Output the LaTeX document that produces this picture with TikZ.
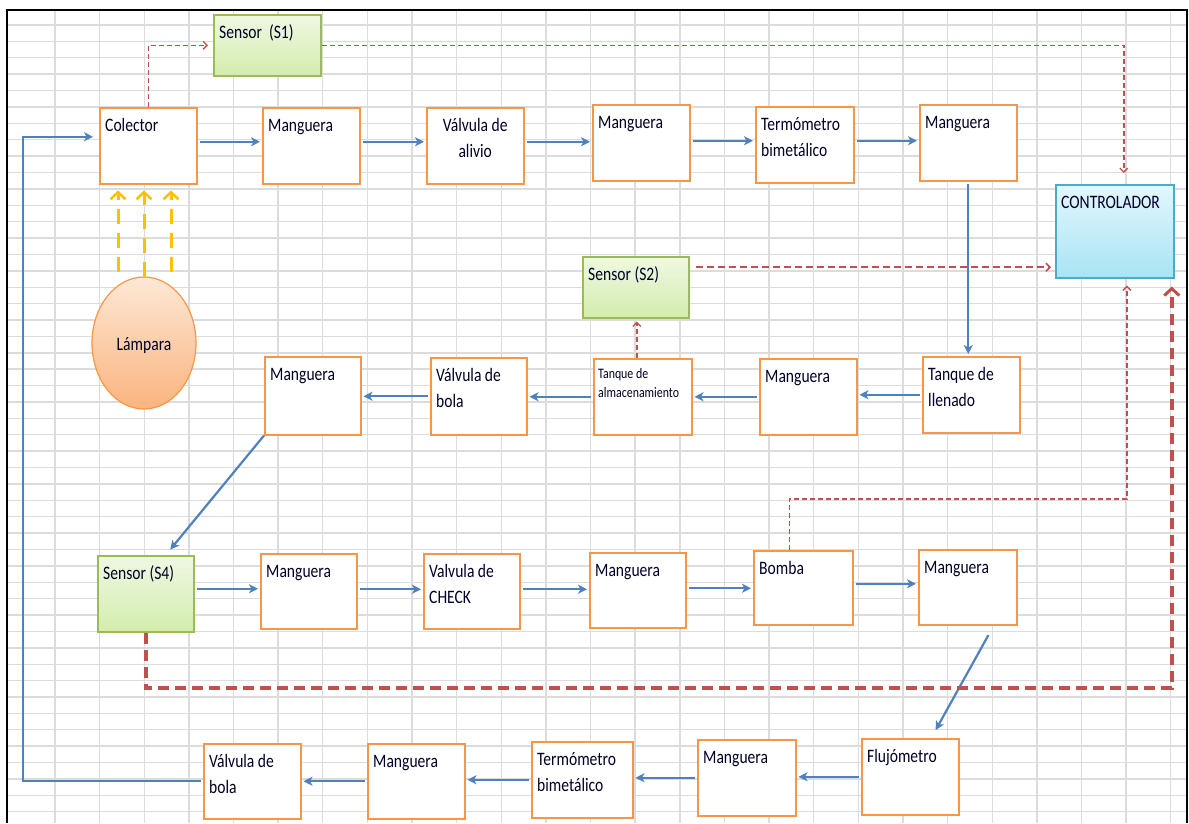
\documentclass[tikz,border=0pt]{standalone}
\usepackage{fontspec}
\setmainfont{Carlito}[FakeStretch=0.82]
\usetikzlibrary{arrows.meta,shapes.geometric}

\definecolor{procedge}{HTML}{F79646}
\definecolor{flowblue}{HTML}{4F81BD}
\definecolor{sigred}{HTML}{C0504D}
\definecolor{raygold}{HTML}{FFC000}
\definecolor{gridgray}{HTML}{DCDCDC}
\definecolor{sensedge}{HTML}{9BBB59}
\definecolor{senstop}{HTML}{EFF8E3}
\definecolor{sensbot}{HTML}{D3EDAC}
\definecolor{ctrledge}{HTML}{4BACC6}
\definecolor{ctrltop}{HTML}{E3F7FD}
\definecolor{ctrlbot}{HTML}{A8E4F4}
\definecolor{lamptop}{HTML}{FDE8D6}
\definecolor{lampbot}{HTML}{FAB47E}

% block: style, name, left, top, width, height, text (top-left aligned)
\newcommand\blk[7][proc]{%
  \node[#1, minimum width=#5, minimum height=#6] (#2) at (#3,#4) {};
  \node[lbl] (#2-t) at ([xshift=6pt,yshift=-24pt]#2.north west) {#7};}
% two stacked lines whose baseline is the first one
\newcommand\twol[2]{\vtop{\hbox{#1}\hbox{#2}}}
\newcommand\twoc[2]{\vtop{\halign{\hfil##\hfil\cr#1\cr#2\cr}}}

\begin{document}
\begin{tikzpicture}[x=1pt,y=-1pt,
  proc/.style={draw=procedge, line width=1.5pt, fill=white, inner sep=0pt, anchor=north west},
  sens/.style={draw=sensedge, line width=1.5pt, top color=senstop, bottom color=sensbot, inner sep=0pt, anchor=north west},
  ctrl/.style={draw=ctrledge, line width=1.5pt, top color=ctrltop, bottom color=ctrlbot, inner sep=0pt, anchor=north west},
  lbl/.style={anchor=base west, inner sep=0pt, font=\fontsize{19}{26}\selectfont, text=black!85!blue},
  gridline/.style={draw=gridgray, line width=1.4pt},
  flow/.style={draw=flowblue, line width=2.2pt, -{Stealth[length=9pt,width=9pt,inset=2.5pt]}, shorten <=2pt, shorten >=2pt},
  sig/.style={draw=sigred, line width=1.5pt, dash pattern=on 5pt off 3pt, -{Straight Barb[length=4pt,width=8pt,line width=1.4pt]}},
  sigmid/.style={draw=sigred, line width=2pt, dash pattern=on 7pt off 4pt, -{Straight Barb[length=4pt,width=8pt,line width=1.5pt]}},
  sigbig/.style={draw=sigred, line width=3.8pt, dash pattern=on 11pt off 6pt, -{Straight Barb[length=7pt,width=15pt,line width=3pt]}},
  ray/.style={draw=raygold, line width=3pt, dash pattern=on 15pt off 9pt, -{Straight Barb[length=7pt,width=15pt,line width=2.5pt]}}
]
\useasboundingbox (0,0) rectangle (1189,823);

% spreadsheet grid
\foreach \k in {0,...,25}
  \draw[gridline] (55+44.63*\k,10) -- (55+44.63*\k,823);
\foreach \k in {0,...,48}
  \draw[gridline] (7,25+16.39*\k) -- (1187,25+16.39*\k);

% frame
\draw[black, line width=2.5pt] (7,823) -- (7,10) -- (1187,10) -- (1187,823);

% row 1
\blk{c1}{99}{107}{97}{76}{Colector}
\blk{m1}{262}{107}{97}{76}{Manguera}
\node[proc, minimum width=97, minimum height=76] (va) at (426,107) {};
\node[lbl, anchor=base] (va-t) at ([yshift=-24pt]va.north) {\twoc{Válvula de}{alivio}};
\blk{m2}{592}{104}{97}{76}{Manguera}
\blk{t1}{755}{106}{98}{76}{\twol{Termómetro}{bimetálico}}
\blk{m3}{919}{104}{97}{76}{Manguera}

% row 2
\blk{m4}{264}{356}{96}{78}{Manguera}
\blk{vb1}{430}{357}{96}{77}{\twol{Válvula de}{bola}}
\node[proc, minimum width=98, minimum height=76] (ta) at (593,358) {};
\node[lbl, font=\fontsize{14.5}{19}\selectfont] (ta-t) at ([xshift=5pt,yshift=-20pt]ta.north west) {\twol{Tanque de}{almacenamiento}};
\blk{m5}{759}{358}{97}{76}{Manguera}
\blk{tl}{922}{356}{97}{76}{\twol{Tanque de}{llenado}}

% row 3
\blk[sens]{s4}{97}{555}{96}{76}{Sensor (S4)}
\blk{m6}{260}{553}{96}{75}{Manguera}
\blk{vc}{423}{553}{96}{75}{\twol{Valvula de}{CHECK}}
\blk{m7}{589}{552}{96}{75}{Manguera}
\blk{bo}{753}{550}{99}{74}{Bomba}
\blk{m8}{918}{549}{98}{75}{Manguera}

% row 4
\blk{vb2}{203}{743}{97}{75}{\twol{Válvula de}{bola}}
\blk{m9}{367}{743}{97}{75}{Manguera}
\blk{t2}{531}{741}{101}{76}{\twol{Termómetro}{bimetálico}}
\blk{m10}{697}{739}{98}{76}{Manguera}
\blk{fl}{861}{738}{97}{76}{Flujómetro}

% sensors, controller, lamp
\blk[sens]{s1}{213}{14}{107}{61}{Sensor~ (S1)}
\blk[sens]{s2}{582}{256}{106}{61}{Sensor (S2)}
\blk[ctrl]{ct}{1055}{184}{118}{93}{CONTROLADOR}
\node[ellipse, draw=procedge, line width=1.2pt, top color=lamptop, bottom color=lampbot,
      minimum width=104, minimum height=132, inner sep=0pt] (lamp) at (144,343) {};
\node[lbl, anchor=base] (lamp-t) at ([yshift=-7pt]lamp.center) {Lámpara};

% light rays
\coordinate (rayl) at (118,0);
\coordinate (rayr) at (171,0);
\draw[ray, shorten >=6pt] ([yshift=4pt]lamp.north -| rayl) -- (rayl |- c1.south);
\draw[ray, shorten >=6pt] ([yshift=-1pt]lamp.north) -- (lamp.north |- c1.south);
\draw[ray, shorten >=6pt] ([yshift=4pt]lamp.north -| rayr) -- (rayr |- c1.south);

% water circuit
\draw[flow] ([yshift=4pt]c1.east) -- ([yshift=4pt]c1.east -| m1.west);
\draw[flow] ([yshift=4pt]m1.east) -- ([yshift=4pt]m1.east -| va.west);
\draw[flow] ([yshift=4pt]va.east) -- ([yshift=4pt]va.east -| m2.west);
\draw[flow] ([yshift=2pt]m2.east) -- ([yshift=2pt]m2.east -| t1.west);
\draw[flow] ([yshift=4pt]t1.east) -- ([yshift=4pt]t1.east -| m3.west);
\draw[flow] (m3.south) -- (m3.south |- tl.north);
\draw[flow] (tl.west) -- (tl.west -| m5.east);
\draw[flow] (m5.west) -- (m5.west -| ta.east);
\draw[flow] (ta.west) -- (ta.west -| vb1.east);
\draw[flow] (vb1.west) -- (vb1.west -| m4.east);
\draw[flow, shorten <=0pt, shorten >=7pt] (m4.south west) -- ([xshift=20pt]s4.north);
\draw[flow] ([yshift=5pt]s4.east) -- ([yshift=5pt]s4.east -| m6.west);
\draw[flow] ([yshift=2pt]m6.east) -- ([yshift=2pt]m6.east -| vc.west);
\draw[flow] ([yshift=2pt]vc.east) -- ([yshift=2pt]vc.east -| m7.west);
\draw[flow] ([yshift=2pt]m7.east) -- ([yshift=2pt]m7.east -| bo.west);
\draw[flow] ([yshift=4pt]bo.east) -- ([yshift=4pt]bo.east -| m8.west);
\draw[flow, shorten <=11pt, shorten >=9pt] ([xshift=26pt]m8.south) -- ([xshift=21pt]fl.north);
\draw[flow] (fl.west) -- (fl.west -| m10.east);
\draw[flow] (m10.west) -- (m10.west -| t2.east);
\draw[flow] (t2.west) -- (t2.west -| m9.east);
\draw[flow] (m9.west) -- (m9.west -| vb2.east);
\coordinate (loopx) at (23,0);
\draw[flow, shorten >=6pt] (vb2.west) -- (vb2.west -| loopx) |- ([yshift=9pt]c1.west);

% measurement signals
\draw[sig, shorten >=5pt] (c1.north) |- (s1.west);
\draw[sig, shorten >=11pt] (s1.east) -| ([xshift=9pt]ct.north);
\draw[sigmid, shorten <=6pt, shorten >=4pt] ([yshift=20pt]s2.east) -- ([yshift=20pt]s2.east -| ct.west);
\draw[sig, shorten >=3pt] ([xshift=-6pt]ta.north) -- ([xshift=-6pt]ta.north |- s2.south);
\coordinate (bojoin) at (0,499);
\draw[sig, shorten >=7pt] ([xshift=-14pt]bo.north) -- ([xshift=-14pt]bo.north |- bojoin) -| ([xshift=12pt]ct.south);
\coordinate (s4join) at (0,688);
\draw[sigbig, shorten >=8pt] (s4.south) -- (s4.south |- s4join) -| ([xshift=57pt]ct.south);
\end{tikzpicture}
\end{document}
